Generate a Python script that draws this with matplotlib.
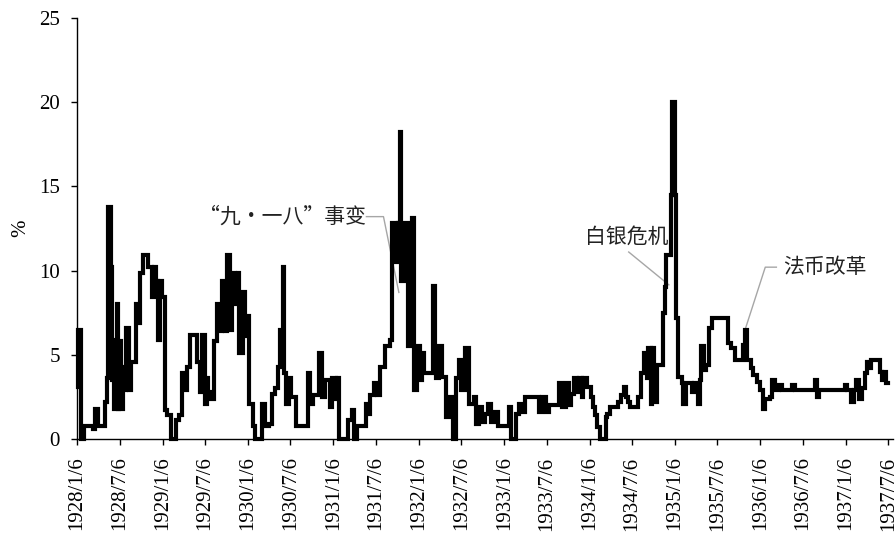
import pandas as pd
import matplotlib.pyplot as plt

# Interest rate (%) – step changes, time given as decimal year
years = [
    1928.02, 1928.03, 1928.06, 1928.09, 1928.20, 1928.22, 1928.26, 1928.34, 1928.36, 1928.38,
    1928.41, 1928.42, 1928.44, 1928.45, 1928.48, 1928.49, 1928.51, 1928.53, 1928.55, 1928.57,
    1928.59, 1928.62, 1928.65, 1928.70, 1928.72, 1928.75, 1928.78, 1928.85, 1928.89, 1928.91,
    1928.94, 1928.96, 1928.98, 1929.01, 1929.04, 1929.07, 1929.11, 1929.17, 1929.20, 1929.24,
    1929.26, 1929.30, 1929.33, 1929.42, 1929.45, 1929.47, 1929.51, 1929.53, 1929.55, 1929.58,
    1929.62, 1929.65, 1929.68, 1929.71, 1929.74, 1929.77, 1929.80, 1929.82, 1929.86, 1929.89,
    1929.91, 1929.95, 1929.98, 1930.01, 1930.03, 1930.07, 1930.10, 1930.18, 1930.21, 1930.26,
    1930.30, 1930.33, 1930.36, 1930.39, 1930.42, 1930.44, 1930.46, 1930.49, 1930.52, 1930.57,
    1930.71, 1930.74, 1930.78, 1930.85, 1930.88, 1930.92, 1930.97, 1931.00, 1931.04, 1931.06,
    1931.08, 1931.18, 1931.23, 1931.26, 1931.29, 1931.39, 1931.42, 1931.44, 1931.49, 1931.53,
    1931.56, 1931.62, 1931.68, 1931.70, 1931.745, 1931.765, 1931.79, 1931.81, 1931.85, 1931.89,
    1931.93, 1931.96, 1931.99, 1932.03, 1932.05, 1932.08, 1932.18, 1932.20, 1932.22, 1932.25,
    1932.29, 1932.33, 1932.37, 1932.41, 1932.45, 1932.48, 1932.51, 1932.55, 1932.60, 1932.66,
    1932.68, 1932.72, 1932.75, 1932.79, 1932.82, 1932.86, 1932.89, 1932.94, 1933.07, 1933.09,
    1933.15, 1933.19, 1933.22, 1933.26, 1933.42, 1933.45, 1933.50, 1933.54, 1933.65, 1933.69,
    1933.73, 1933.77, 1933.79, 1933.83, 1933.86, 1933.89, 1933.92, 1933.94, 1933.98, 1934.03,
    1934.05, 1934.07, 1934.10, 1934.13, 1934.20, 1934.22, 1934.25, 1934.34, 1934.38, 1934.41,
    1934.44, 1934.46, 1934.49, 1934.58, 1934.61, 1934.65, 1934.68, 1934.70, 1934.73, 1934.74,
    1934.77, 1934.80, 1934.87, 1934.89, 1934.91, 1934.96, 1934.98, 1935.01, 1935.03, 1935.05,
    1935.09, 1935.11, 1935.14, 1935.21, 1935.24, 1935.28, 1935.31, 1935.32, 1935.35, 1935.38,
    1935.41, 1935.44, 1935.63, 1935.67, 1935.71, 1935.81, 1935.83, 1935.86, 1935.90, 1935.93,
    1935.97, 1936.01, 1936.04, 1936.07, 1936.13, 1936.15, 1936.18, 1936.23, 1936.26, 1936.38,
    1936.42, 1936.65, 1936.68, 1936.70, 1937.00, 1937.03, 1937.07, 1937.11, 1937.13, 1937.17,
    1937.20, 1937.23, 1937.26, 1937.29, 1937.31, 1937.41, 1937.44, 1937.46, 1937.48, 1937.51,
]
rates = [
    3.1, 6.5, 0.0, 0.75, 0.6, 1.8, 0.75, 2.2, 3.6, 13.8,
    10.2, 3.5, 5.9, 1.8, 8.0, 1.8, 5.8, 1.8, 4.3, 2.9,
    6.6, 2.9, 4.6, 8.0, 6.9, 9.85, 10.9, 10.2, 8.4, 10.2,
    9.4, 5.9, 9.4, 8.4, 1.7, 1.4, 0.0, 1.1, 1.4, 3.9,
    2.9, 4.3, 6.2, 4.6, 2.8, 6.2, 2.1, 3.6, 2.8, 2.4,
    5.8, 8.0, 6.4, 9.4, 6.4, 10.9, 6.5, 9.85, 8.0, 9.85,
    5.1, 8.7, 6.1, 7.3, 2.1, 0.75, 0.0, 2.1, 0.8, 0.9,
    2.7, 3.0, 4.3, 6.5, 10.2, 3.9, 2.1, 3.6, 2.5, 0.8,
    3.9, 2.1, 2.6, 5.1, 2.5, 3.5, 1.9, 3.6, 2.4, 3.6,
    0.0, 1.1, 1.7, 0.0, 0.8, 2.1, 1.5, 2.6, 3.3, 2.6,
    4.3, 5.5, 5.9, 12.8, 10.5, 12.8, 18.2, 9.4, 12.8, 5.5,
    13.1, 2.9, 5.5, 3.5, 5.1, 3.9, 9.1, 4.3, 3.6, 5.5,
    3.7, 1.3, 2.5, 0.0, 3.6, 4.7, 2.9, 5.4, 2.1, 2.5,
    0.9, 1.9, 1.0, 1.5, 2.1, 1.0, 1.6, 0.8, 1.9, 0.0,
    1.5, 2.1, 1.6, 2.5, 1.6, 2.5, 1.6, 2.0, 3.3, 1.9,
    3.3, 2.0, 2.7, 3.6, 2.8, 3.6, 2.5, 3.6, 3.1, 2.5,
    1.9, 1.4, 0.7, 0.0, 1.3, 1.5, 1.9, 2.2, 2.6, 3.1,
    2.5, 2.2, 1.9, 2.5, 3.9, 5.1, 3.6, 5.4, 2.1, 5.4,
    2.2, 4.4, 7.5, 9.0, 10.9, 14.5, 20.0, 14.5, 7.2, 3.7,
    3.3, 2.1, 3.3, 2.8, 3.3, 2.1, 3.5, 5.5, 4.1, 4.4,
    6.6, 7.2, 5.7, 5.4, 4.7, 5.6, 6.5, 4.7, 4.2, 3.8,
    3.4, 2.9, 1.8, 2.4, 2.5, 3.5, 2.9, 3.2, 2.9, 3.2,
    2.9, 3.5, 2.5, 2.9, 3.2, 2.9, 2.2, 2.9, 3.5, 2.4,
    3.0, 3.9, 4.6, 4.2, 4.7, 4.0, 3.5, 4.0, 3.3, 3.3,
]
tick_dates = [f"{y}-{m:02d}-06" for y in range(1928, 1938) for m in (1, 7)]


def to_date(y):
    yi = int(y)
    return pd.Timestamp(f"{yi}-01-01") + pd.Timedelta(days=(y - yi) * 365.25)


dates = [to_date(y) for y in years]
ticks = pd.to_datetime(tick_dates)
tick_labels = [f"{d.year}/{d.month}/{d.day}" for d in ticks]

serif = ["Liberation Serif", "DejaVu Serif"]
cjk = ["Noto Sans CJK SC", "DejaVu Sans"]

fig = plt.figure(figsize=(8.96, 5.40), dpi=100)
ax = fig.add_axes([0.086, 0.187, 0.911, 0.780])

ax.plot(dates, rates, drawstyle="steps-post", color="black", lw=3.0,
        solid_joinstyle="miter", clip_on=False, zorder=3)

ax.set_ylim(0, 25)
ax.set_yticks([0, 5, 10, 15, 20, 25])
ax.set_xlim(pd.Timestamp("1928-01-06"), pd.Timestamp("1937-07-27"))
ax.set_xticks(ticks)
ax.set_xticklabels(tick_labels, rotation=90, fontfamily=serif, fontsize=15)
for lab in ax.get_yticklabels():
    lab.set_fontfamily(serif)
    lab.set_fontsize(15)
ax.set_ylabel("%", fontfamily=serif, fontsize=15, labelpad=6)

ax.tick_params(axis="both", direction="out", length=4.5, width=1, color="black")
ax.tick_params(axis="x", pad=8)
ax.tick_params(axis="y", pad=8)
for s in ("top", "right"):
    ax.spines[s].set_visible(False)
for s in ("left", "bottom"):
    ax.spines[s].set_linewidth(1)
    ax.spines[s].set_color("black")

# annotations with grey leader lines
lead = dict(color="#a6a6a6", lw=1, clip_on=False, zorder=2)
ax.plot([to_date(1931.40), to_date(1931.60), to_date(1931.78)], [13.2, 13.2, 8.7], **lead)
ax.text(to_date(1931.39), 13.2, "“九・一八”事变", ha="right", va="center",
        fontfamily=cjk, fontsize=15, color="#222222")

ax.plot([to_date(1934.47), to_date(1934.94)], [11.1, 9.15], **lead)
ax.text(to_date(1934.45), 12.0, "白银危机", ha="center", va="center",
        fontfamily=cjk, fontsize=15, color="#222222")

ax.plot([to_date(1936.20), to_date(1936.07), to_date(1935.84)], [10.2, 10.2, 6.6], **lead)
ax.text(to_date(1936.28), 10.2, "法币改革", ha="left", va="center",
        fontfamily=cjk, fontsize=15, color="#222222")

fig.savefig("out.png", dpi=100)
